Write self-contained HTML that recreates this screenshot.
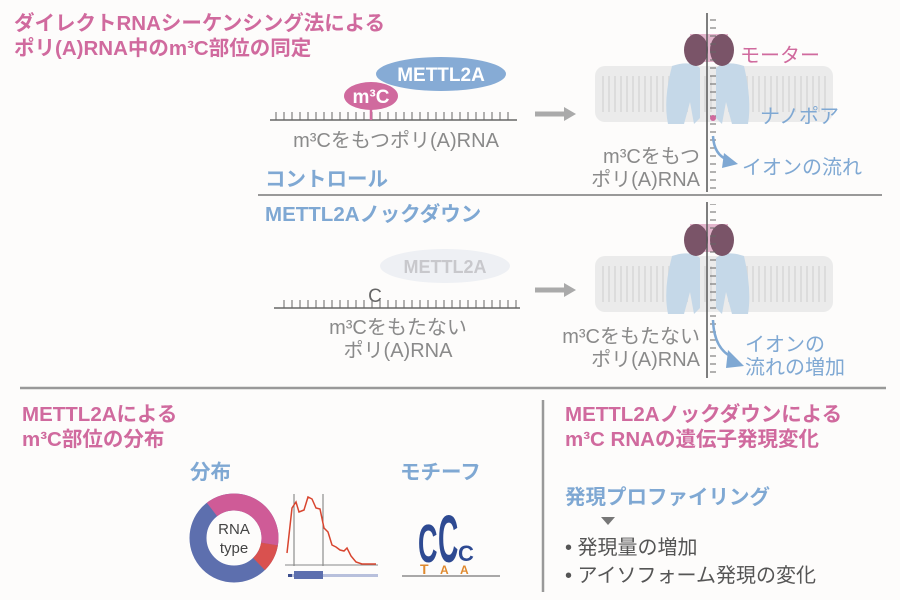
<!DOCTYPE html>
<html><head><meta charset="utf-8"><style>
html,body{margin:0;padding:0;background:#fdfcfb;}
svg{display:block;font-family:"Liberation Sans","Noto Sans CJK JP",sans-serif;}
.pk{fill:#d06a9e;font-weight:bold;font-size:20.5px;}
.bl{fill:#7fa8d3;font-weight:bold;font-size:20.5px;}
.gr{fill:#8a8a8a;font-size:20px;}
</style></head><body>
<svg width="900" height="600" viewBox="0 0 900 600">
<defs>
<pattern id="tk" width="8" height="8" patternUnits="userSpaceOnUse"><line x1="4" y1="0" x2="4" y2="8" stroke="#666" stroke-width="1"/></pattern>
<pattern id="lip" width="6" height="60" patternUnits="userSpaceOnUse"><line x1="3" y1="0" x2="3" y2="60" stroke="#dcdcdc" stroke-width="2"/></pattern>
<pattern id="vt" width="10" height="8" patternUnits="userSpaceOnUse"><line x1="0" y1="4" x2="7" y2="4" stroke="#666" stroke-width="1"/></pattern>
</defs>
<text class="pk" x="14" y="30">ダイレクトRNAシーケンシング法による</text>
<text class="pk" x="14" y="55">ポリ(A)RNA中のm³C部位の同定</text>

<rect x="274" y="112" width="240" height="8" fill="url(#tk)"/>
<line x1="270" y1="120" x2="517" y2="120" stroke="#666" stroke-width="1.5"/>
<ellipse cx="441" cy="74" rx="65" ry="17" fill="#86abd5"/>
<text x="441" y="81" text-anchor="middle" fill="#fff" font-weight="bold" font-size="19">METTL2A</text>
<line x1="371" y1="104" x2="371" y2="120" stroke="#d06a9e" stroke-width="2.5"/>
<ellipse cx="371" cy="96" rx="27" ry="14" fill="#d06a9e"/>
<text x="371" y="103" text-anchor="middle" fill="#fff" font-weight="bold" font-size="19">m³C</text>
<text class="gr" x="396" y="147" text-anchor="middle">m³Cをもつポリ(A)RNA</text>
<path d="M535 114 H566" stroke="#aaa" stroke-width="5"/><path d="M564 107 L576 114 L564 121Z" fill="#aaa"/>

<g id="mem">
<rect x="595" y="66" width="238" height="56" rx="10" fill="#ebebeb"/>
<rect x="600" y="76" width="228" height="36" fill="url(#lip)"/>
<path d="M672 66 Q690 60 700 68 L700 118 L694 124 L690 102 L684 124 L668 124 Q663 100 672 66Z" fill="#c5d8e8"/>
<path d="M744 66 Q726 60 716 68 L716 118 L722 124 L726 102 L732 124 L748 124 Q752 100 744 66Z" fill="#c5d8e8"/>
<rect x="690" y="34" width="38" height="28" fill="#e3b5cc"/>
<ellipse cx="696" cy="50" rx="12" ry="16" fill="#7a5468"/>
<ellipse cx="722" cy="50" rx="12" ry="16" fill="#7a5468"/>
</g>
<rect x="707" y="14" width="9" height="176" fill="url(#vt)"/>
<line x1="707" y1="13" x2="707" y2="192" stroke="#555" stroke-width="1.5"/>
<circle cx="713" cy="118" r="3" fill="#d06a9e"/>
<text x="740" y="62" fill="#d06a9e" font-size="20">モーター</text>
<text x="760" y="123" fill="#7fa8d3" font-size="20">ナノポア</text>
<text class="gr" x="700" y="163" text-anchor="end">m³Cをもつ</text>
<text class="gr" x="700" y="186" text-anchor="end">ポリ(A)RNA</text>
<path d="M713 136 Q714 155 728 160" stroke="#7fa8d3" stroke-width="2.5" fill="none"/>
<path d="M724 153 L738 164 L722 168Z" fill="#7fa8d3"/>
<text x="742" y="174" fill="#7fa8d3" font-size="20">イオンの流れ</text>

<line x1="258" y1="195" x2="882" y2="195" stroke="#999" stroke-width="2"/>
<text class="bl" x="265" y="186">コントロール</text>
<text class="bl" x="265" y="221">METTL2Aノックダウン</text>

<ellipse cx="445" cy="266" rx="65" ry="17" fill="#eef0f4"/>
<text x="445" y="273" text-anchor="middle" fill="#c8c8cc" font-weight="bold" font-size="18">METTL2A</text>
<text x="375" y="302" text-anchor="middle" fill="#666" font-size="19">C</text>
<rect x="278" y="300" width="240" height="8" fill="url(#tk)"/>
<line x1="274" y1="308" x2="520" y2="308" stroke="#666" stroke-width="1.5"/>
<text class="gr" x="398" y="334" text-anchor="middle">m³Cをもたない</text>
<text class="gr" x="398" y="357" text-anchor="middle">ポリ(A)RNA</text>
<path d="M535 290 H566" stroke="#aaa" stroke-width="5"/><path d="M564 283 L576 290 L564 297Z" fill="#aaa"/>
<use href="#mem" transform="translate(0,190)"/>
<rect x="707" y="204" width="9" height="172" fill="url(#vt)"/>
<line x1="707" y1="202" x2="707" y2="378" stroke="#555" stroke-width="1.5"/>
<text class="gr" x="700" y="343" text-anchor="end">m³Cをもたない</text>
<text class="gr" x="700" y="366" text-anchor="end">ポリ(A)RNA</text>
<path d="M713 320 Q714 350 734 358" stroke="#7fa8d3" stroke-width="2.5" fill="none"/>
<path d="M728 350 L744 366 L726 368Z" fill="#7fa8d3"/>
<text x="745" y="351" fill="#7fa8d3" font-size="20">イオンの</text>
<text x="745" y="374" fill="#7fa8d3" font-size="20">流れの増加</text>

<line x1="20" y1="388" x2="886" y2="388" stroke="#999" stroke-width="2.5"/>
<line x1="543" y1="400" x2="543" y2="592" stroke="#999" stroke-width="2.5"/>

<text class="pk" x="22" y="421">METTL2Aによる</text>
<text class="pk" x="22" y="446">m³C部位の分布</text>
<text class="bl" x="190" y="479">分布</text>
<text class="bl" x="400" y="479">モチーフ</text>
<g transform="translate(234,538)">
<circle r="36" fill="none" stroke="#5d6fae" stroke-width="17"/>
<path d="M-22 -28.5 A36 36 0 0 1 35.5 6" stroke="#cf5b97" stroke-width="17" fill="none"/>
<path d="M35.5 6 A36 36 0 0 1 25 26" stroke="#d9514f" stroke-width="17" fill="none"/>
<text y="-4" text-anchor="middle" font-size="15" fill="#444">RNA</text>
<text y="15" text-anchor="middle" font-size="15" fill="#444">type</text>
</g>
<line x1="294" y1="494" x2="294" y2="566" stroke="#777" stroke-width="1"/>
<line x1="323" y1="494" x2="323" y2="566" stroke="#777" stroke-width="1"/>
<line x1="285" y1="565" x2="378" y2="565" stroke="#888" stroke-width="1"/>
<path d="M287 553 L292 508 L296 502 L299 512 L304 510 L308 497 L312 499 L316 508 L320 509 L324 528 L328 532 L332 545 L336 547 L340 550 L344 551 L347 548 L351 556 L356 562 L362 564 L376 564" stroke="#d8452f" stroke-width="1.5" fill="none"/>
<rect x="288" y="574" width="90" height="3" fill="#b8c0dc"/>
<rect x="294" y="571" width="29" height="8" fill="#5d6fae"/>
<rect x="288" y="574" width="4" height="3" fill="#3d4f8e"/>
<line x1="402" y1="576" x2="500" y2="576" stroke="#555"/>
<text x="0" y="0" font-family="Liberation Sans,sans-serif" font-weight="bold" font-size="36" fill="#2e4a92" transform="translate(418,562) scale(0.75,1.5)">C</text>
<text x="0" y="0" font-family="Liberation Sans,sans-serif" font-weight="bold" font-size="36" fill="#2e4a92" transform="translate(438,562) scale(0.78,1.85)">C</text>
<text x="0" y="0" font-family="Liberation Sans,sans-serif" font-weight="bold" font-size="22" fill="#2e4a92" transform="translate(458,561)">C</text>
<text x="420" y="574" font-size="14" font-weight="bold" fill="#e08a2f">T</text>
<text x="440" y="574" font-size="12" font-weight="bold" fill="#e08a2f">A</text>
<text x="460" y="574" font-size="12" font-weight="bold" fill="#e08a2f">A</text>

<text class="pk" x="565" y="421">METTL2Aノックダウンによる</text>
<text class="pk" x="565" y="446">m³C RNAの遺伝子発現変化</text>
<text class="bl" x="565" y="504">発現プロファイリング</text>
<path d="M601 517 L615 517 L608 525Z" fill="#777"/>
<text x="565" y="554" font-size="20" fill="#555">• 発現量の増加</text>
<text x="565" y="582" font-size="20" fill="#555">• アイソフォーム発現の変化</text>
</svg>
</body></html>
